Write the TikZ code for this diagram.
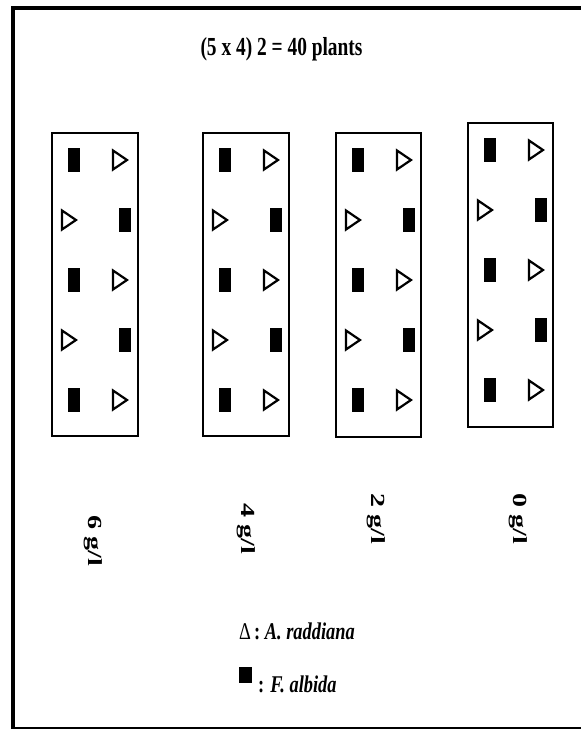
\documentclass[tikz,border=0pt]{standalone}
\usepackage{fontspec}
\setmainfont{Liberation Serif}
\begin{document}
\begin{tikzpicture}[x=1pt,y=-1pt,
  plotbox/.style={draw, line width=2.2pt, inner sep=0pt},
  tri/.style={draw, line width=2.2pt, line join=miter, fill=white},
  sq/.style={fill=black},
  vlabel/.style={rotate=-90, inner sep=0pt, font=\fontsize{20}{24}\selectfont\bfseries},
  frameline/.style={line width=4pt}]
\useasboundingbox (0,0) rectangle (581,729);
% frame
\draw[frameline] (11,8) -- (581,8);
\draw[frameline] (13,6) -- (13,729);
\draw[line width=2pt] (11,728) -- (581,728);
% title
\node[anchor=base, inner sep=0pt] (title) at (281.5,55) {\scalebox{0.97}[1.3]{\fontsize{20}{24}\selectfont\bfseries (5 x 4) 2 = 40 plants}};
% plots: left x, right x, top y, bottom y
\foreach \L/\R/\T/\B/\n in {52/138/133/436/1, 203/289/133/436/2, 336/421/133/437/3, 468/553/123/427/4}{
  \path[plotbox] (\L,\T) rectangle (\R,\B);
  \node[inner sep=0pt, minimum size=0pt] (plot\n) at ({(\L+\R)/2},{(\T+\B)/2}) {};
  \foreach \r in {0,2,4}{
    \pgfmathsetmacro{\cy}{\T+27+60*\r}
    \fill[sq] ({\L+22-6.3},{\cy-12}) rectangle ({\L+22+6.3},{\cy+12});
    \draw[tri] ({\L+68-7},{\cy-9.5}) -- ({\L+68+7},\cy) -- ({\L+68-7},{\cy+9.5}) -- cycle;
  }
  \foreach \r in {1,3}{
    \pgfmathsetmacro{\cy}{\T+27+60*\r}
    \draw[tri] ({\L+17-7},{\cy-9.5}) -- ({\L+17+7},\cy) -- ({\L+17-7},{\cy+9.5}) -- cycle;
    \fill[sq] ({\L+73-6.3},{\cy-12}) rectangle ({\L+73+6.3},{\cy+12});
  }
}
% concentration labels
\node[vlabel] (c6) at (93,541) {\scalebox{1.4}[1]{6 g/l}};
\node[vlabel] (c4) at (246,529) {\scalebox{1.4}[1]{4 g/l}};
\node[vlabel] (c2) at (376.5,519) {\scalebox{1.4}[1]{2 g/l}};
\node[vlabel] (c0) at (518,519) {\scalebox{1.4}[1]{0 g/l}};
% legend
\node[anchor=base west, inner sep=0pt] (leg1) at (239,639) {\scalebox{0.92}[1.2]{\fontsize{20}{24}\selectfont Δ\,\bfseries: \itshape A. raddiana}};
\fill[sq] (239.3,666.7) rectangle (252.3,683.3);
\node[anchor=base west, inner sep=0pt] (leg2) at (258,692) {\scalebox{0.92}[1.2]{\fontsize{20}{24}\selectfont\bfseries : \itshape F. albida}};
\end{tikzpicture}
\end{document}
